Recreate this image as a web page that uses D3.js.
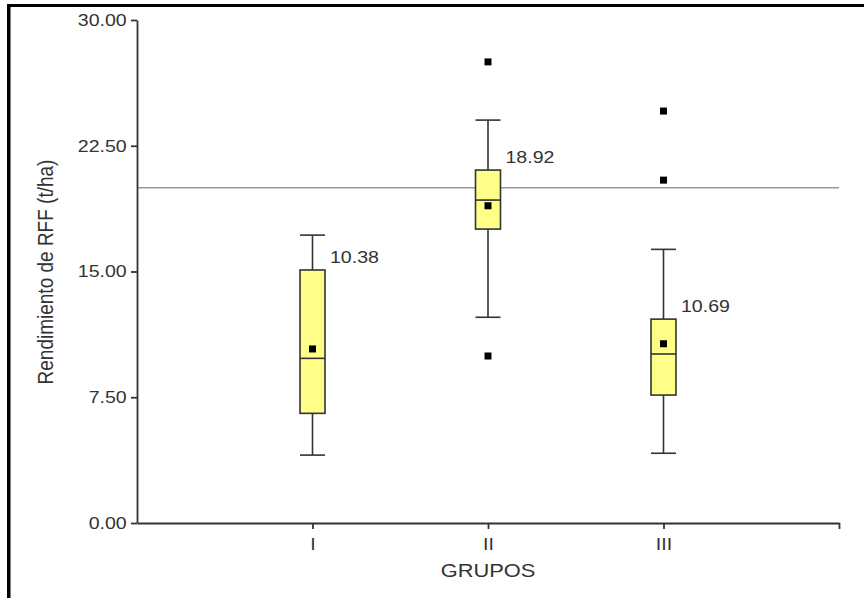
<!DOCTYPE html>
<html>
<head>
<meta charset="utf-8">
<script src="https://cdn.jsdelivr.net/npm/d3@7"></script>
<style>
	body { margin: 0; background: #fff; }
	svg { display: block; }
	text { font-family: 'Liberation Sans', Arial, sans-serif; fill: #333; }
</style>
</head>
<body>
<div id="chart"></div>
<script>
const groups = ['I', 'II', 'III']
const whiskerLow = [4.05, 12.27, 4.16]
const q1 = [6.54, 17.53, 7.63]
const median = [9.82, 19.26, 10.08]
const q3 = [15.09, 21.05, 12.16]
const whiskerHigh = [17.17, 24.03, 16.32]
const means = [10.38, 18.92, 10.69]
const outliers = [[], [27.5, 9.96], [24.57, 20.45]]
const refValue = 20
const yTicks = [0, 7.5, 15, 22.5, 30]

const fullWidth = 864
const fullHeight = 598
const stretch = 1.15

const x = d3.scaleLinear().domain([0, 4]).range([137, 839])
const y = d3.scaleLinear().domain([0, 30]).range([523, 20])

const boxWidth = 25

const svg = d3
	.select('#chart')
	.append('svg')
	.attr('width', fullWidth)
	.attr('height', fullHeight)

// outer frame (top and left only are visible)
svg.append('rect')
	.attr('x', 7).attr('y', 4)
	.attr('width', 3.5).attr('height', fullHeight)
	.attr('fill', '#000')
svg.append('rect')
	.attr('x', 7).attr('y', 4)
	.attr('width', fullWidth).attr('height', 3)
	.attr('fill', '#000')

// reference line
svg.append('line')
	.attr('x1', x(0)).attr('x2', x(4))
	.attr('y1', y(refValue)).attr('y2', y(refValue))
	.attr('stroke', '#999')
	.attr('stroke-width', 1.5)

// axes
const yAxis = svg.append('g')
	.attr('transform', `translate(${x(0)},0)`)
	.call(d3.axisLeft(y).tickValues(yTicks).tickFormat(d3.format('.2f')).tickSize(6).tickPadding(3).tickSizeOuter(0))
const xAxis = svg.append('g')
	.attr('transform', `translate(0,${y(0)})`)
	.call(d3.axisBottom(x).tickValues([1, 2, 3, 4]).tickFormat((d) => groups[d - 1] || '').tickSize(6).tickPadding(9).tickSizeOuter(0))

;[yAxis, xAxis].forEach((ax) => {
	ax.select('.domain').attr('stroke', '#333').attr('stroke-width', 1.8)
	ax.selectAll('.tick line').attr('stroke', '#333').attr('stroke-width', 1.8)
	ax.selectAll('.tick text')
		.attr('font-size', 17)
		.attr('fill', '#333')
		.attr('transform', `scale(${stretch},1)`)
})
yAxis.attr('font-family', null)
xAxis.attr('font-family', null)

// axis titles
svg.append('text')
	.attr('transform', `translate(53,272) scale(${stretch},1) rotate(-90)`)
	.attr('text-anchor', 'middle')
	.attr('font-size', 19)
	.text('Rendimiento de RFF (t/ha)')
svg.append('text')
	.attr('transform', `translate(${x(2)},577) scale(${stretch},1)`)
	.attr('text-anchor', 'middle')
	.attr('font-size', 19)
	.text('GRUPOS')

// boxes
const stats = groups.map((g, i) => ({
	g,
	pos: i + 1,
	lo: whiskerLow[i],
	q1: q1[i],
	med: median[i],
	q3: q3[i],
	hi: whiskerHigh[i],
	mean: means[i],
	out: outliers[i],
}))

const box = svg.selectAll('.box').data(stats).enter().append('g').attr('class', 'box')

const stroke = '#333'
box.append('line')
	.attr('x1', (d) => x(d.pos)).attr('x2', (d) => x(d.pos))
	.attr('y1', (d) => y(d.lo)).attr('y2', (d) => y(d.hi))
	.attr('stroke', stroke).attr('stroke-width', 1.6)
box.selectAll('.cap')
	.data((d) => [d.lo, d.hi].map((v) => ({pos: d.pos, v})))
	.enter().append('line')
	.attr('x1', (d) => x(d.pos) - boxWidth / 2).attr('x2', (d) => x(d.pos) + boxWidth / 2)
	.attr('y1', (d) => y(d.v)).attr('y2', (d) => y(d.v))
	.attr('stroke', stroke).attr('stroke-width', 1.6)
box.append('rect')
	.attr('x', (d) => x(d.pos) - boxWidth / 2)
	.attr('width', boxWidth)
	.attr('y', (d) => y(d.q3))
	.attr('height', (d) => y(d.q1) - y(d.q3))
	.attr('fill', '#ffff88')
	.attr('stroke', stroke).attr('stroke-width', 1.6)
box.append('line')
	.attr('x1', (d) => x(d.pos) - boxWidth / 2).attr('x2', (d) => x(d.pos) + boxWidth / 2)
	.attr('y1', (d) => y(d.med)).attr('y2', (d) => y(d.med))
	.attr('stroke', stroke).attr('stroke-width', 1.6)

const sq = 7
box.append('rect')
	.attr('x', (d) => x(d.pos) - sq / 2)
	.attr('y', (d) => y(d.mean) - sq / 2)
	.attr('width', sq).attr('height', sq)
	.attr('fill', '#000')
box.selectAll('.outlier')
	.data((d) => d.out.map((v) => ({pos: d.pos, v})))
	.enter().append('rect')
	.attr('x', (d) => x(d.pos) - sq / 2)
	.attr('y', (d) => y(d.v) - sq / 2)
	.attr('width', sq).attr('height', sq)
	.attr('fill', '#000')

box.append('text')
	.attr('transform', (d) => `translate(${x(d.pos) + 17.5},${y(d.q3) - 7}) scale(${stretch},1)`)
	.attr('font-size', 17)
	.text((d) => d.mean.toFixed(2))
</script>
</body>
</html>
